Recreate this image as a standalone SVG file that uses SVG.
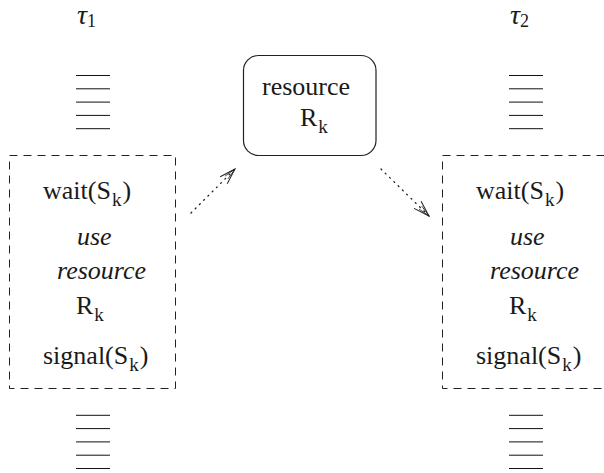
<svg xmlns="http://www.w3.org/2000/svg" width="604" height="473" viewBox="0 0 604 473">
<defs>
<style>
.t{font-family:"Liberation Serif","Times New Roman",serif;font-size:26px;fill:#1a1a1a}
.i{font-style:italic}
.sub{font-size:19px}
.tau{font-family:"Liberation Serif",serif;font-style:italic;font-size:28px;fill:#1a1a1a}
.tsub{font-style:normal;font-size:18px}
.stack line{stroke:#111;stroke-width:1}
.dash{fill:none;stroke:#222;stroke-width:1;stroke-dasharray:8 6}
.box{fill:none;stroke:#222;stroke-width:1.2}
.conn{fill:none;stroke:#222;stroke-width:1.3;stroke-dasharray:1 5;stroke-linecap:round}
</style>
<marker id="ah" viewBox="0 0 18 12" refX="17" refY="6" markerWidth="18" markerHeight="12" markerUnits="userSpaceOnUse" orient="auto">
<path d="M1,1 L17,6 L1,11" fill="none" stroke="#222" stroke-width="1"/>
<path d="M5,4 L17,6 L5,8" fill="none" stroke="#222" stroke-width="0.8"/>
</marker>
</defs>

<g id="task1">
<text class="tau" x="77" y="24">τ<tspan class="tsub" dy="3">1</tspan></text>
<g class="stack">
<line x1="76" y1="75.5" x2="110" y2="75.5"/>
<line x1="76" y1="88.8" x2="110" y2="88.8"/>
<line x1="76" y1="102.1" x2="110" y2="102.1"/>
<line x1="76" y1="115.4" x2="110" y2="115.4"/>
<line x1="76" y1="128.7" x2="110" y2="128.7"/>
</g>
<rect class="dash" x="9.5" y="155.5" width="166" height="233"/>
<text class="t" x="43" y="199">wait(S<tspan class="sub" dy="7" dx="1">k</tspan><tspan dy="-7" dx="1">)</tspan></text>
<text class="t i" x="77" y="245">use</text>
<text class="t i" x="57" y="279">resource</text>
<text class="t" x="76" y="314">R<tspan class="sub" dy="7" dx="1">k</tspan></text>
<text class="t" x="43" y="364">signal(S<tspan class="sub" dy="7" dx="1">k</tspan><tspan dy="-7" dx="1">)</tspan></text>
<g class="stack">
<line x1="76" y1="415.3" x2="110" y2="415.3"/>
<line x1="76" y1="428.6" x2="110" y2="428.6"/>
<line x1="76" y1="441.9" x2="110" y2="441.9"/>
<line x1="76" y1="455.2" x2="110" y2="455.2"/>
<line x1="76" y1="468.5" x2="110" y2="468.5"/>
</g>
</g>

<g id="resource">
<rect class="box" x="243.5" y="55.5" width="132.5" height="100" rx="15" ry="15"/>
<text class="t" x="262" y="95">resource</text>
<text class="t" x="300" y="126">R<tspan class="sub" dy="7" dx="1">k</tspan></text>
</g>

<g id="task2">
<text class="tau" x="510" y="24">τ<tspan class="tsub" dy="3">2</tspan></text>
<g class="stack">
<line x1="509" y1="75.5" x2="543" y2="75.5"/>
<line x1="509" y1="88.8" x2="543" y2="88.8"/>
<line x1="509" y1="102.1" x2="543" y2="102.1"/>
<line x1="509" y1="115.4" x2="543" y2="115.4"/>
<line x1="509" y1="128.7" x2="543" y2="128.7"/>
</g>
<rect class="dash" x="442.5" y="155.5" width="166" height="233"/>
<text class="t" x="476" y="199">wait(S<tspan class="sub" dy="7" dx="1">k</tspan><tspan dy="-7" dx="1">)</tspan></text>
<text class="t i" x="510" y="245">use</text>
<text class="t i" x="490" y="279">resource</text>
<text class="t" x="509" y="314">R<tspan class="sub" dy="7" dx="1">k</tspan></text>
<text class="t" x="476" y="364">signal(S<tspan class="sub" dy="7" dx="1">k</tspan><tspan dy="-7" dx="1">)</tspan></text>
<g class="stack">
<line x1="509" y1="415.3" x2="543" y2="415.3"/>
<line x1="509" y1="428.6" x2="543" y2="428.6"/>
<line x1="509" y1="441.9" x2="543" y2="441.9"/>
<line x1="509" y1="455.2" x2="543" y2="455.2"/>
<line x1="509" y1="468.5" x2="543" y2="468.5"/>
</g>
</g>

<g id="connectors">
<path class="conn" d="M191,213 L235,169" marker-end="url(#ah)"/>
<path class="conn" d="M381,169 L429,216" marker-end="url(#ah)"/>
</g>
</svg>
